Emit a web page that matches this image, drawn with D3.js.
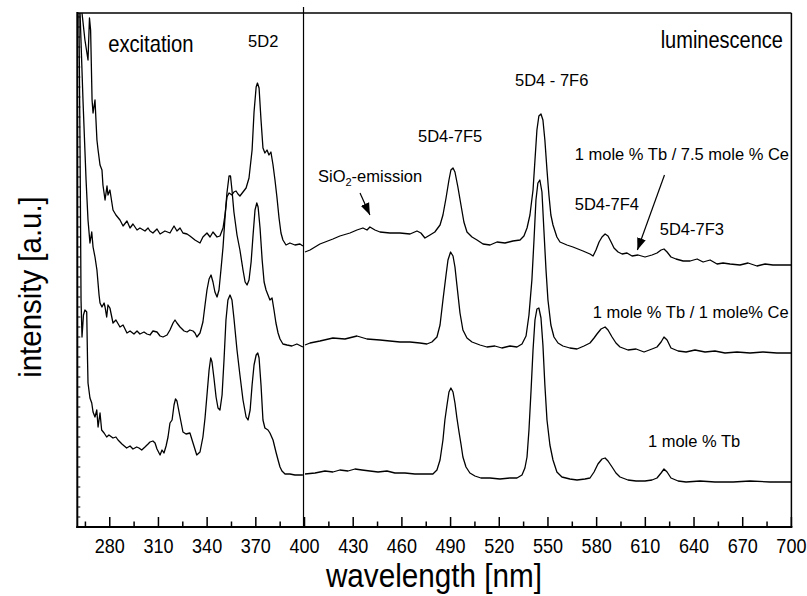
<!DOCTYPE html>
<html>
<head>
<meta charset="utf-8">
<script src="https://cdn.jsdelivr.net/npm/d3@7"></script>
<style>
  body { margin: 0; background: #fff; }
  svg { display: block; font-family: "Liberation Sans", Arial, Helvetica, sans-serif; }
</style>
</head>
<body>
<svg id="chart" width="807" height="596"></svg>
<script>
// wavelength [nm], intensity [a.u.]
const tb75CeExc = [
  [262.9,51.4],[264.7,48.7],[266.6,46.7],[267.5,50.9],[268.2,49.7],[269.1,42.7],[269.7,41.4],[270.9,42.7],
  [272.1,38.7],[272.8,37.7],[274.0,36.2],[275.2,35.7],[275.8,34.2],[277.1,32.7],[278.3,34.1],[278.9,33.2],
  [280.1,33.7],[282.0,31.7],[283.8,31.2],[286.3,30.7],[288.2,30.1],[290.6,30.6],[292.5,29.9],[294.3,30.3],
  [296.8,29.7],[298.6,29.9],[301.7,29.6],[303.6,29.9],[304.8,29.6],[306.6,29.4],[309.1,29.8],[311.0,29.3],
  [314.0,29.6],[317.1,29.4],[319.6,30.1],[321.4,29.6],[323.3,29.9],[325.1,29.4],[327.6,29.3],[329.4,29.1],
  [332.5,28.7],[335.6,28.4],[337.4,29.0],[339.9,29.4],[341.8,29.0],[343.6,29.5],[346.1,29.0],[347.9,29.1],
  [349.8,29.9],[351.0,31.2],[352.2,33.0],[353.5,33.4],[355.3,33.2],[356.5,33.5],[357.8,33.6],[359.0,33.3],
  [360.2,33.1],[362.1,33.5],[364.0,33.9],[365.8,34.9],[367.7,37.7],[368.9,41.5],[370.2,44.0],[371.0,44.4],
  [372.0,43.9],[373.2,40.7],[374.4,37.9],[375.6,37.4],[376.9,37.7],[378.1,37.2],[379.3,37.5],[380.6,36.2],
  [381.8,34.7],[383.0,33.0],[384.3,30.9],[385.5,29.4],[386.7,28.7],[388.6,28.2],[391.0,28.4],[394.1,28.2],
  [397.2,28.3],[399.0,28.1]
];
const tb75CeEm = [
  [400.3,27.5],[403.4,27.7],[409.5,28.3],[417.5,28.8],[421.8,29.1],[428.0,29.4],[432.3,29.7],[436.0,29.9],
  [438.5,29.7],[440.3,30.0],[443.4,29.7],[446.5,29.5],[452.6,29.4],[458.8,29.4],[465.0,29.3],[469.3,29.6],
  [471.7,29.4],[474.2,28.9],[477.3,29.2],[480.3,29.5],[483.5,30.2],[485.3,31.2],[487.2,32.9],[489.0,34.7],
  [490.2,35.7],[491.5,35.9],[492.7,35.5],[494.5,34.0],[496.4,32.2],[498.2,30.5],[500.1,29.5],[503.2,29.0],
  [506.3,28.7],[510.0,28.3],[514.3,28.2],[518.6,28.5],[523.5,28.4],[528.4,28.6],[532.8,28.7],[535.2,29.1],
  [537.1,29.9],[538.9,31.2],[540.8,33.7],[542.0,36.7],[543.2,39.7],[544.4,41.1],[545.7,41.3],[546.9,40.7],
  [548.1,38.7],[549.4,35.7],[550.6,33.2],[551.8,31.2],[553.1,30.2],[555.5,29.0],[557.4,28.5],[561.7,28.2],
  [565.4,28.0],[568.5,27.8],[571.6,27.6],[575.9,27.3],[577.8,27.1],[579.6,27.7],[581.5,28.5],[583.3,29.0],
  [585.2,29.3],[587.0,29.1],[588.9,28.5],[590.7,27.9],[593.2,27.5],[595.7,27.3],[598.7,27.4],[601.8,27.1],
  [605.5,27.2],[609.8,27.0],[614.1,27.2],[617.2,27.4],[619.7,27.7],[621.5,27.8],[623.4,27.5],[625.8,27.0],
  [628.9,26.8],[633.3,26.6],[637.6,26.6],[641.9,26.8],[645.6,26.5],[649.9,26.7],[654.2,26.3],[657.9,26.4],
  [662.2,26.3],[668.3,26.2],[673.3,26.4],[678.8,26.1],[683.8,26.3],[688.6,26.2],[694.2,26.2],[700.0,26.2]
];
const tb1CeExc = [
  [261.7,51.4],[263.5,42.7],[265.4,34.7],[266.6,30.7],[267.8,28.4],[268.9,29.5],[269.7,28.0],[270.9,27.0],
  [272.1,25.7],[273.4,23.2],[274.0,22.4],[275.2,22.0],[276.5,22.4],[277.1,22.0],[278.1,21.0],[278.9,22.2],
  [280.1,21.9],[282.0,20.4],[283.8,20.7],[286.3,20.0],[288.2,20.2],[290.6,19.4],[292.5,19.6],[294.9,19.3],
  [296.8,19.6],[298.6,19.3],[301.1,19.5],[302.9,19.3],[304.8,19.2],[306.6,19.6],[309.1,19.5],[311.0,19.1],
  [312.8,19.0],[315.3,19.2],[317.1,19.7],[319.0,20.4],[320.2,20.7],[321.4,20.4],[323.3,20.0],[325.8,19.6],
  [327.6,19.5],[329.4,19.7],[331.3,19.6],[332.5,19.4],[333.7,19.0],[335.6,19.4],[337.4,20.5],[338.7,22.2],
  [339.9,23.7],[341.2,24.8],[342.4,25.2],[343.6,24.5],[344.8,23.5],[346.1,23.0],[347.3,23.7],[348.5,25.7],
  [349.8,28.0],[351.0,30.9],[352.2,33.4],[353.5,35.1],[354.4,35.1],[355.3,33.7],[356.5,31.5],[358.4,29.2],
  [360.2,27.7],[362.1,25.7],[363.4,24.5],[364.6,24.2],[365.8,24.7],[367.1,26.5],[368.3,29.2],[369.5,31.7],
  [370.6,32.4],[371.4,32.0],[372.6,29.9],[373.9,26.7],[375.1,24.5],[376.3,23.7],[377.5,23.2],[378.7,22.7],
  [380.0,22.9],[381.2,21.7],[382.4,20.4],[383.7,19.4],[384.9,18.8],[386.7,18.3],[389.2,18.2],[392.2,18.1],
  [395.3,18.3],[399.0,18.0]
];
const tb1CeEm = [
  [400.3,18.2],[403.4,18.4],[409.5,18.6],[417.5,18.9],[424.9,18.8],[432.3,19.1],[438.5,18.8],[446.5,18.7],
  [452.6,18.6],[458.8,18.5],[465.0,18.5],[471.1,18.4],[475.4,18.3],[478.5,18.5],[481.6,19.0],[483.5,20.2],
  [485.3,22.7],[487.2,25.2],[488.4,26.7],[490.0,27.5],[491.5,27.1],[492.7,26.0],[493.9,24.2],[495.8,21.4],
  [497.6,19.7],[500.1,18.9],[503.2,18.5],[508.1,18.2],[512.4,18.0],[517.3,18.1],[521.6,17.9],[526.6,18.1],
  [530.9,18.0],[534.0,18.3],[536.5,19.1],[538.3,21.2],[540.1,24.7],[541.4,28.7],[542.6,32.7],[543.8,34.4],
  [545.0,34.7],[546.3,33.5],[547.5,29.7],[548.8,25.7],[550.0,22.7],[551.8,20.2],[553.7,19.0],[556.2,18.4],
  [559.2,18.1],[563.5,17.9],[567.9,17.8],[572.2,18.1],[575.9,18.4],[578.4,18.9],[580.2,19.3],[582.7,19.8],
  [585.2,20.0],[587.0,19.7],[589.5,19.0],[591.9,18.4],[594.4,18.0],[599.3,17.7],[604.3,17.8],[609.2,17.5],
  [614.1,17.8],[617.2,18.0],[619.7,18.5],[621.5,19.0],[623.4,18.7],[625.8,17.9],[630.2,17.6],[635.1,17.5],
  [640.6,17.7],[646.8,17.5],[652.9,17.6],[659.1,17.4],[666.5,17.5],[674.5,17.4],[682.5,17.5],[691.1,17.4],
  [700.0,17.4]
];
const tbExc = [
  [261.0,51.4],[261.7,37.7],[262.3,22.7],[262.9,19.0],[263.8,21.2],[264.7,21.7],[265.8,21.5],[266.3,16.7],
  [266.6,14.4],[267.8,12.9],[268.9,12.4],[269.7,11.5],[270.9,11.0],[272.0,11.7],[272.8,10.0],[274.0,11.4],
  [275.0,9.7],[276.5,9.4],[278.1,9.0],[279.5,9.2],[282.0,8.9],[283.8,9.0],[285.1,8.7],[287.5,8.3],
  [290.4,7.9],[292.5,8.1],[294.3,7.8],[296.6,8.0],[298.0,7.9],[299.7,7.7],[301.7,8.0],[303.6,8.3],
  [304.8,8.5],[306.6,8.6],[307.9,8.4],[309.1,7.8],[311.0,7.2],[312.2,7.7],[313.4,7.4],[314.7,8.1],
  [315.9,9.0],[317.1,10.4],[318.4,10.7],[319.6,12.2],[320.5,12.8],[321.4,12.6],[322.7,11.5],[323.9,10.5],
  [325.1,9.5],[327.0,9.3],[329.4,9.4],[331.3,8.4],[333.6,7.2],[335.6,7.5],[337.4,9.0],[338.7,10.9],
  [339.9,13.2],[341.2,15.7],[342.2,16.9],[343.0,16.5],[344.2,14.9],[345.5,13.0],[346.7,11.9],[347.9,11.7],
  [349.2,13.2],[350.4,16.7],[351.6,20.7],[352.8,22.7],[354.1,23.2],[355.3,22.7],[356.5,20.9],[358.4,17.7],
  [360.2,15.2],[362.1,12.7],[364.0,11.0],[365.2,10.7],[366.5,11.7],[367.7,14.2],[368.9,16.2],[370.2,17.2],
  [371.2,17.4],[372.0,16.9],[373.2,14.2],[374.4,10.7],[375.6,9.9],[377.5,9.7],[378.7,9.4],[380.6,8.7],
  [382.4,7.5],[383.7,6.7],[384.9,6.0],[386.1,5.6],[388.0,5.3],[391.0,5.3],[394.1,5.2],[397.2,5.2],
  [399.0,5.2]
];
const tbEm = [
  [400.3,5.3],[406.5,5.4],[412.6,5.6],[417.5,5.5],[421.8,5.7],[426.8,5.6],[431.1,5.8],[435.4,5.7],
  [440.3,5.6],[445.3,5.5],[450.8,5.6],[455.7,5.4],[461.9,5.4],[468.0,5.3],[474.2,5.3],[479.1,5.3],
  [481.6,5.7],[483.5,6.7],[485.3,8.7],[486.5,10.7],[487.8,12.2],[489.0,13.5],[490.2,13.9],[491.5,13.5],
  [492.7,12.4],[493.9,10.9],[495.2,9.5],[496.4,8.3],[497.6,7.0],[499.5,6.0],[501.9,5.4],[505.0,5.1],
  [508.7,4.9],[514.3,4.9],[520.4,4.8],[526.6,4.9],[530.9,4.9],[534.0,5.2],[535.8,5.9],[537.1,7.0],
  [538.3,9.7],[539.6,13.7],[540.8,17.7],[542.0,20.7],[543.2,21.8],[544.4,21.9],[545.7,20.9],[546.9,18.2],
  [548.1,14.2],[549.4,10.7],[551.2,8.2],[553.1,6.7],[555.5,5.5],[558.6,5.0],[563.5,4.8],[567.9,4.7],
  [572.8,4.8],[575.9,4.9],[578.4,5.5],[580.8,6.3],[583.3,6.8],[585.2,6.9],[587.0,6.6],[589.5,6.0],
  [591.9,5.4],[594.4,5.0],[599.3,4.7],[604.3,4.6],[609.8,4.6],[614.1,4.7],[617.2,4.9],[619.7,5.4],
  [621.5,5.8],[623.4,5.5],[625.8,4.9],[630.2,4.6],[635.1,4.5],[643.7,4.6],[652.9,4.5],[664.1,4.5],
  [674.5,4.6],[686.8,4.5],[700.0,4.5]
];
const segments = [tb75CeExc, tb75CeEm, tb1CeExc, tb1CeEm, tbExc, tbEm];

const xTicks = d3.range(280, 701, 30);
const xMinor = d3.range(265, 701, 15);

// label text, wavelength, intensity, font size, horizontal squeeze
const labels = [
  ["excitation", 279.0, 47.5, 23, 0.88],
  ["5D2", 365.2, 48.0, 16.5, 1],
  ["5D4 - 7F6", 529.7, 44.1, 16.5, 1],
  ["5D4-7F5", 469.9, 38.5, 16.5, 1],
  ["1 mole % Tb / 7.5 mole % Ce", 566.5, 36.7, 16.5, 1],
  ["5D4-7F4", 566.5, 31.7, 16.5, 1],
  ["5D4-7F3", 618.9, 29.2, 16.5, 1],
  ["1 mole % Tb / 1 mole% Ce", 577.6, 20.9, 16.5, 1],
  ["1 mole % Tb", 611.6, 8.0, 16.5, 1]
];
const arrows = [
  [434.2, 33.4, 440.3, 31.2],
  [621.8, 35.2, 605.1, 27.7]
];

const svg = d3.select("#chart");
const mLeft = 77.3, mRight = 791.4, mTop = 13, mBottom = 527;
const x = d3.scaleLinear().domain([260, 700]).range([mLeft, mRight]);
const y = d3.scaleLinear().domain([0, 51.4]).range([mBottom, mTop]);

const defs = svg.append("defs");
defs.append("clipPath").attr("id", "clip")
  .append("rect").attr("x", mLeft).attr("y", mTop)
  .attr("width", mRight - mLeft).attr("height", mBottom - mTop);
defs.append("marker")
  .attr("id", "head").attr("viewBox", "0 -5 12 10")
  .attr("refX", 12).attr("refY", 0)
  .attr("markerWidth", 12).attr("markerHeight", 10)
  .attr("markerUnits", "userSpaceOnUse")
  .attr("orient", "auto")
  .append("path").attr("d", "M0,-4.5L12,0L0,4.5Z").attr("fill", "#000");

function txt(g, s, px, py, size, sx, anchor) {
  return g.append("text")
    .attr("transform", `translate(${px},${py}) scale(${sx},1)`)
    .attr("font-size", size)
    .attr("text-anchor", anchor || "start")
    .attr("fill", "#000")
    .text(s);
}

// spectra
const line = d3.line().x(d => x(d[0])).y(d => y(d[1]));
svg.append("g").attr("clip-path", "url(#clip)")
  .selectAll("path").data(segments).join("path")
  .attr("d", line)
  .attr("fill", "none").attr("stroke", "#000").attr("stroke-width", 1.3)
  .attr("stroke-linejoin", "round");

// frame
svg.append("line").attr("x1", mLeft).attr("x2", mRight).attr("y1", mTop).attr("y2", mTop)
  .attr("stroke", "#000").attr("stroke-width", 1.5);
svg.append("line").attr("x1", mRight).attr("x2", mRight).attr("y1", mTop).attr("y2", mBottom)
  .attr("stroke", "#000").attr("stroke-width", 1.5);
svg.append("line").attr("x1", mLeft).attr("x2", mLeft).attr("y1", mTop - 1).attr("y2", mBottom + 1)
  .attr("stroke", "#000").attr("stroke-width", 2);
svg.append("line").attr("x1", mLeft - 1).attr("x2", mRight + 1).attr("y1", mBottom).attr("y2", mBottom)
  .attr("stroke", "#000").attr("stroke-width", 2);

// excitation / luminescence separator
svg.append("line").attr("x1", x(400) - 1).attr("x2", x(400) - 1).attr("y1", mTop - 6).attr("y2", mBottom)
  .attr("stroke", "#000").attr("stroke-width", 1.2);

// x ticks (inward)
svg.append("g").selectAll("line").data(xMinor).join("line")
  .attr("x1", d => x(d)).attr("x2", d => x(d))
  .attr("y1", mBottom).attr("y2", d => xTicks.includes(d) ? mBottom - 10 : mBottom - 5.5)
  .attr("stroke", "#000").attr("stroke-width", 1.5);
const tl = svg.append("g");
xTicks.forEach(t => txt(tl, t, x(t), 553, 21, 0.86, "middle"));

// y minor ticks, no labels
svg.append("g").selectAll("line").data(y.ticks(50)).join("line")
  .attr("x1", mLeft).attr("x2", mLeft + 3)
  .attr("y1", d => y(d)).attr("y2", d => y(d))
  .attr("stroke", "#000").attr("stroke-width", 1);

// axis titles
txt(svg, "wavelength [nm]", 434, 587, 33, 0.9, "middle");
svg.append("text")
  .attr("transform", "translate(41,287) rotate(-90) scale(0.92,1)")
  .attr("font-size", 32).attr("text-anchor", "middle").text("intensity [a.u.]");

// annotations
const ann = svg.append("g");
labels.forEach(([s, wl, v, size, sx]) => txt(ann, s, x(wl), y(v), size, sx));
txt(ann, "luminescence", x(694.8), y(47.9), 23, 0.87, "end");
const sio = ann.append("text")
  .attr("x", x(408.3)).attr("y", y(34.5)).attr("font-size", 16.5);
sio.append("tspan").text("SiO");
sio.append("tspan").attr("font-size", 11).attr("dy", 4).text("2");
sio.append("tspan").attr("dy", -4).text("-emission");

ann.selectAll("line").data(arrows).join("line")
  .attr("x1", d => x(d[0])).attr("y1", d => y(d[1]))
  .attr("x2", d => x(d[2])).attr("y2", d => y(d[3]))
  .attr("stroke", "#000").attr("stroke-width", 1.2)
  .attr("marker-end", "url(#head)");
</script>
</body>
</html>
